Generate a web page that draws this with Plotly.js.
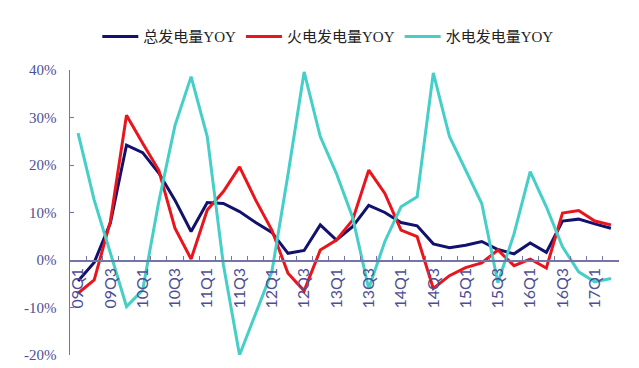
<!DOCTYPE html>
<html>
<head>
<meta charset="utf-8">
<script src="https://cdn.plot.ly/plotly-3.0.1.min.js"></script>
<style>html,body{margin:0;padding:0;background:#fff;}#chart{width:639px;height:368px;}</style>
</head>
<body>
<div id="chart"></div>
<script>
const quarters = ["09Q1","09Q2","09Q3","09Q4","10Q1","10Q2","10Q3","10Q4","11Q1","11Q2","11Q3","11Q4",
  "12Q1","12Q2","12Q3","12Q4","13Q1","13Q2","13Q3","13Q4","14Q1","14Q2","14Q3","14Q4",
  "15Q1","15Q2","15Q3","15Q4","16Q1","16Q2","16Q3","16Q4","17Q1","17Q2"];
const totalYoY = [-4.4,-0.5,7.8,24.2,22.6,18.3,12.6,6.0,12.1,11.9,10.2,7.9,5.8,1.4,2.0,7.4,4.2,7.0,11.5,10.0,7.9,7.2,3.4,2.6,3.1,3.9,2.2,1.3,3.6,1.6,8.2,8.6,7.6,6.7];
const thermalYoY = [-7.0,-4.2,8.1,30.5,24.6,18.9,6.7,0.2,10.5,14.4,19.6,12.6,6.3,-2.8,-6.5,2.1,4.2,8.4,18.9,14.0,6.3,4.9,-6.0,-3.3,-1.6,-0.6,2.1,-1.2,0.2,-1.7,9.9,10.4,8.2,7.4];
const hydroYoY = [26.7,12.6,1.5,-9.8,-6.3,12.3,28.3,38.6,26.0,-1.0,-20.0,-11.2,-2.5,18.0,39.6,26.0,18.2,9.0,-6.0,3.9,11.2,13.3,39.4,26.0,18.9,11.9,-4.8,5.5,18.6,11.2,2.8,-2.5,-4.6,-3.9];
const seriesNames = ["总发电量YOY","火电发电量YOY","水电发电量YOY"];
const yTicks = [-20,-10,0,10,20,30,40];

const tickText = quarters.map((q,i)=> i%2===0 ? q : "");
const axisColor = "#7474a8";
const yTickFont = {family:"Liberation Serif, Times New Roman, serif", size:15, color:"#4e4e94"};
const xTickFont = {family:"Lato, DejaVu Sans, sans-serif", size:16, color:"#4e4e94"};

const mk = (y,name,color)=>({x:quarters,y:y,name:name,type:"scatter",mode:"lines",
  line:{color:color,width:3},hoverinfo:"skip"});

const data = [
  mk(totalYoY, seriesNames[0], "#12126e"),
  mk(thermalYoY, seriesNames[1], "#e8161c"),
  mk(hydroYoY, seriesNames[2], "#45cfc8")
];

const layout = {
  width:639, height:368,
  margin:{l:70, r:20, t:70, b:13},
  paper_bgcolor:"#fff", plot_bgcolor:"#fff",
  showlegend:true,
  legend:{orientation:"h", x:0.513, xanchor:"center", xref:"container", y:0.9, yanchor:"middle", yref:"container",
    font:{family:"Liberation Serif, Noto Sans CJK SC, serif", size:15, color:"#222"},
    itemwidth:36, tracegroupgap:0},
  xaxis:{type:"category", range:[-0.5,33.5], tickvals:quarters, ticktext:tickText,
    tickson:"boundaries", ticks:"inside", ticklen:4, tickcolor:axisColor, tickwidth:1,
    tickangle:-90, tickfont:xTickFont, showline:true, linecolor:axisColor, linewidth:1.5,
    showgrid:false, zeroline:false, anchor:"free", position:1/3, fixedrange:true},
  yaxis:{range:[-20,40], tickvals:yTicks, ticktext:yTicks.map(v=>v+"%"),
    ticks:"inside", ticklen:4, tickcolor:axisColor, tickfont:yTickFont,
    showline:true, linecolor:axisColor, linewidth:1.5, showgrid:false, zeroline:false,
    ticklabelstandoff:9, fixedrange:true}
};

Plotly.newPlot("chart", data, layout, {displayModeBar:false, staticPlot:true});
</script>
</body>
</html>
